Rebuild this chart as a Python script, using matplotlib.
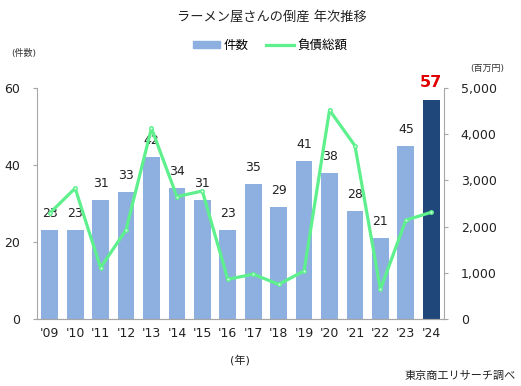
import numpy as np
import matplotlib
matplotlib.use('Agg')
import matplotlib.pyplot as plt

plt.rcParams['font.family'] = ['DejaVu Sans', 'Noto Sans CJK JP']

# データ
years = ["'09", "'10", "'11", "'12", "'13", "'14", "'15", "'16",
         "'17", "'18", "'19", "'20", "'21", "'22", "'23", "'24"]
counts = [23, 23, 31, 33, 42, 34, 31, 23, 35, 29, 41, 38, 28, 21, 45, 57]
debt = [2290, 2830, 1110, 1930, 4130, 2650, 2770, 860,
        970, 750, 1040, 4520, 3750, 640, 2140, 2310]

bar_color = '#8DB0E0'
last_color = '#1F477A'
line_color = '#5EF08C'
spine_color = '#A6A6A6'

fig = plt.figure(figsize=(5.21, 3.86), dpi=100)
ax = fig.add_axes([37 / 521, 1 - 319 / 386, 407 / 521, 231 / 386])
ax2 = ax.twinx()

x = np.arange(len(years))
colors = [bar_color] * (len(counts) - 1) + [last_color]
bars = ax.bar(x, counts, width=0.66, color=colors, zorder=2, label='件数')

# 数値ラベル
for i, (bar, c) in enumerate(zip(bars, counts)):
    if i == len(counts) - 1:
        ax.text(bar.get_x() + bar.get_width() / 2, c + 2.6, str(c), ha='center', va='bottom',
                fontsize=11.5, fontweight='bold', color='#E00000')
    else:
        ax.text(bar.get_x() + bar.get_width() / 2, c + 2.6, str(c), ha='center', va='bottom',
                fontsize=9, color='#222222')

ax2.plot(x, debt, color=line_color, linewidth=2.3, marker='o', markersize=2.5,
         markerfacecolor='#D8FFE4', markeredgecolor=line_color, zorder=3, label='負債総額')

ax.set_xlim(-0.5, len(years) - 0.5)
ax.set_ylim(0, 60)
ax.set_yticks([0, 20, 40, 60])
ax2.set_ylim(0, 5000)
ax2.set_yticks([0, 1000, 2000, 3000, 4000, 5000])
ax2.set_yticklabels(['0', '1,000', '2,000', '3,000', '4,000', '5,000'])
ax.set_xticks(x)
ax.set_xticklabels(years)

for a in (ax, ax2):
    a.spines['top'].set_visible(False)
    for s in ['left', 'right', 'bottom']:
        a.spines[s].set_color(spine_color)
    a.tick_params(axis='y', length=3, color=spine_color, labelsize=9, labelcolor='#222222')
ax.spines['right'].set_visible(False)
ax2.spines['left'].set_visible(False)
ax.tick_params(axis='x', length=0, labelsize=9, pad=6, labelcolor='#222222')
ax.tick_params(axis='y', pad=9)
ax2.tick_params(axis='y', pad=9)

# タイトル・凡例
fig.text(272 / 521, 1 - 17 / 386, 'ラーメン屋さんの倒産 年次推移', ha='center', va='center', fontsize=9.5,
         color='#222222')
h1, l1 = ax.get_legend_handles_labels()
h2, l2 = ax2.get_legend_handles_labels()
fig.legend([h1[0], h2[0]], l1 + l2, loc='center', bbox_to_anchor=(270 / 521, 1 - 45 / 386),
           ncol=2, frameon=False, fontsize=9, handlelength=2.2, handleheight=0.5,
           columnspacing=1.4, handletextpad=0.3)
leg_handles = fig.legends[0].legend_handles
leg_handles[0].set_color(bar_color)
leg_handles[1].set_marker('')

fig.text(24 / 521, 1 - 53 / 386, '(件数)', ha='center', va='center', fontsize=6.5, color='#333333')
fig.text(487 / 521, 1 - 68 / 386, '(百万円)', ha='center', va='center', fontsize=6.5, color='#333333')
fig.text(240 / 521, 1 - 360 / 386, '(年)', ha='center', va='center', fontsize=8, color='#222222')
fig.text(516 / 521, 1 - 376 / 386, '東京商工リサーチ調べ', ha='right', va='center', fontsize=8,
         color='#222222')

fig.savefig('out.png', dpi=100)
plt.close(fig)
